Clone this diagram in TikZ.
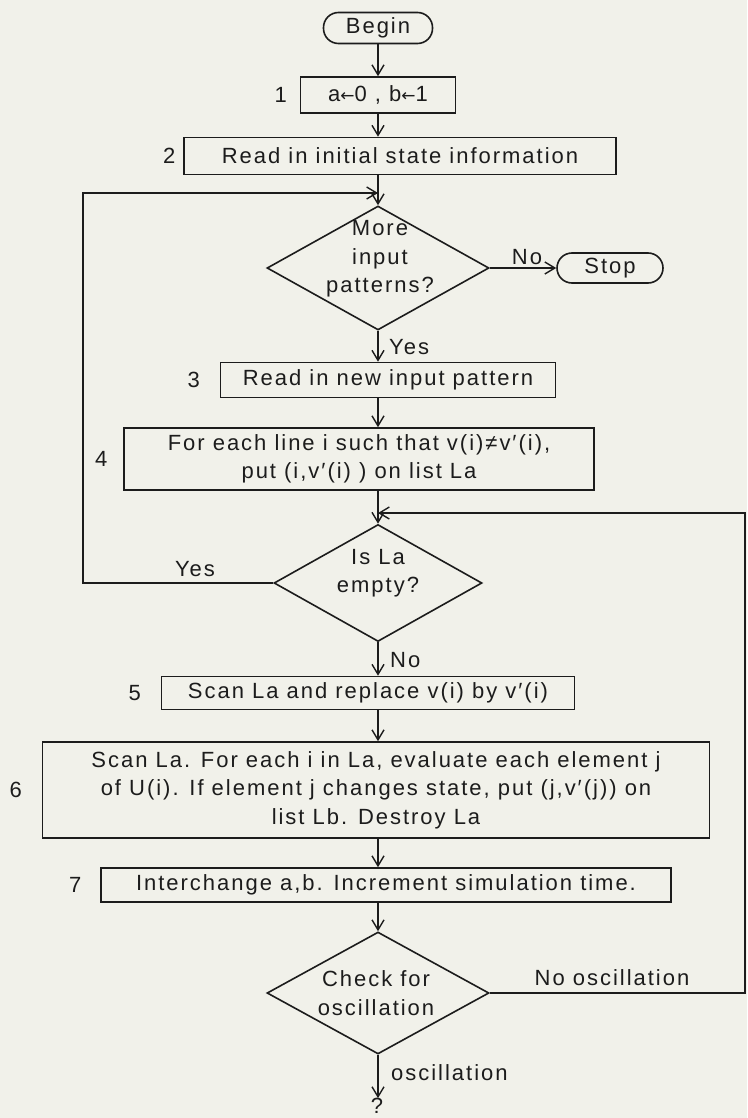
\documentclass[tikz,border=0pt]{standalone}
\usepackage{fontspec}
\setmainfont{Liberation Sans}[LetterSpace=9]
\newfontfamily\arrfont{DejaVu Sans}
\usetikzlibrary{shapes.geometric,arrows.meta}
\definecolor{paper}{RGB}{241,241,234}
\definecolor{ink}{RGB}{28,28,28}
\newcommand{\lf}{\fontsize{22}{28.5}\selectfont}
\newcommand{\la}{{\arrfont\fontsize{17}{20}\selectfont ←}}
\begin{document}
\begin{tikzpicture}[x=1pt,y=-1pt,
  box/.style={draw=ink, line width=1.6pt, rectangle, inner sep=0pt, align=center, font=\lf, text=ink},
  term/.style={draw=ink, line width=1.6pt, rectangle, rounded corners=15pt, inner sep=0pt, font=\lf, text=ink},
  dia/.style={draw=ink, line width=1.6pt, diamond, inner sep=0pt},
  dtext/.style={align=center, font=\lf, text=ink, inner sep=0pt},
  lab/.style={font=\lf, text=ink, inner sep=0pt},
  num/.style={font=\lf, text=ink, inner sep=0pt},
  arr/.style={draw=ink, line width=1.4pt, -{Straight Barb[length=10pt,width=12pt,line width=1.4pt]}},
  ln/.style={draw=ink, line width=1.4pt}]
\fill[paper] (0,0) rectangle (747,1118);
\useasboundingbox (0,0) rectangle (747,1118);
\coordinate (cl) at (378,0);

% terminals and boxes
\node[term, minimum width=109pt, minimum height=31pt] (begin) at (378,28) {Begin};
\node[box, minimum width=155pt, minimum height=36pt] (b1) at (378,95) {a\la 0 , b\la 1};
\node[box, minimum width=432pt, minimum height=37pt] (b2) at (400,156) {Read in initial state information};
\node[dia, minimum width=222pt, minimum height=124pt] (d1) at (378,268) {};
\node[dtext] (d1t) at (380,259) {More\\input\\patterns?};
\node[term, minimum width=106pt, minimum height=30pt] (stop) at (610,268) {Stop};
\node[box, minimum width=335pt, minimum height=35pt] (b3) at (388,380) {Read in new input pattern};
\node[box, minimum width=470pt, minimum height=62pt] (b4) at (359,459) {For each line i such that v(i)≠v′(i),\\put (i,v′(i) ) on list La};
\node[dia, minimum width=208pt, minimum height=117pt] (d2) at (378,583) {};
\node[dtext] (d2t) at (378,573) {Is La\\empty?};
\node[box, minimum width=413pt, minimum height=33pt] (b5) at (368,693) {Scan La and replace v(i) by v′(i)};
\node[box, minimum width=667pt, minimum height=96pt] (b6) at (376,790) {Scan La. For each i in La, evaluate each element j\\of U(i). If element j changes state, put (j,v′(j)) on\\list Lb. Destroy La};
\node[box, minimum width=570pt, minimum height=34pt] (b7) at (386,885) {Interchange a,b. Increment simulation time.};
\node[dia, minimum width=222pt, minimum height=122pt] (d3) at (378,993) {};
\node[dtext] (d3t) at (376,993) {Check for\\oscillation};
\node[lab] (q) at (377,1106) {?};

% step numbers
\node[num] (n1) at ([xshift=-19pt]b1.west) {1};
\node[num] (n2) at ([xshift=-14pt]b2.west) {2};
\node[num] (n3) at ([xshift=-26pt]b3.west) {3};
\node[num] (n4) at ([xshift=-22pt]b4.west) {4};
\node[num] (n5) at ([xshift=-26pt]b5.west) {5};
\node[num] (n6) at ([xshift=-26pt]b6.west) {6};
\node[num] (n7) at ([xshift=-25pt]b7.west) {7};

% loop corners
\coordinate (lt) at (83,193);
\coordinate (rt) at (745,513);

% connectors
\draw[arr] (begin.south) -- (b1.north);
\draw[arr] (b1.south) -- (b2.north -| cl);
\draw[arr] (b2.south -| cl) -- (d1.north);
\draw[arr] (d1.east) -- (stop.west);
\draw[arr] (d1.south) -- (b3.north -| cl);
\draw[arr] (b3.south -| cl) -- (b4.north -| cl);
\draw[arr] (b4.south -| cl) -- (d2.north);
\draw[arr] (d2.south) -- (b5.north -| cl);
\draw[arr] (b5.south -| cl) -- (b6.north -| cl);
\draw[arr] (b6.south -| cl) -- (b7.north -| cl);
\draw[arr] (b7.south -| cl) -- (d3.north);
\draw[arr] (d3.south) -- (d3.south |- q.north);
\draw[arr] (d2.west) -- (d2.west -| lt) -- (lt) -- (lt -| d1.north);
\draw[arr] (d3.east) -- (d3.east -| rt) -- (rt) -- (rt -| d2.north);

% connector labels
\node[lab] (lno1) at (527,257) {No};
\node[lab, anchor=west] (lyes1) at (389,347) {Yes};
\node[lab] (lyes2) at (195,569) {Yes};
\node[lab, anchor=west] (lno2) at (390,660) {No};
\node[lab] (lnoosc) at (612,978) {No oscillation};
\node[lab, anchor=west] (losc) at (391,1073) {oscillation};
\end{tikzpicture}
\end{document}
